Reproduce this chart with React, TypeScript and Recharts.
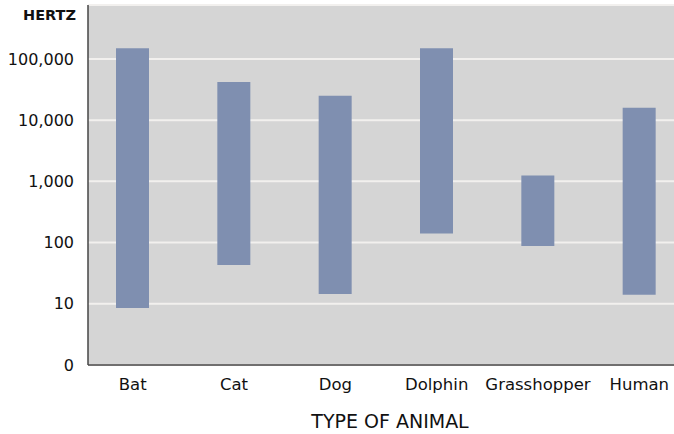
import { BarChart, Bar, XAxis, YAxis, CartesianGrid } from 'recharts';

const animals = ['Bat', 'Cat', 'Dog', 'Dolphin', 'Grasshopper', 'Human'];
const lowHz = [8.5, 43, 14.5, 140, 88, 14];
const highHz = [150000, 42000, 25000, 150000, 1250, 16000];
const yTicks = [1, 10, 100, 1000, 10000, 100000];

const data = animals.map((name, i) => ({ name, range: [lowHz[i], highHz[i]] }));

const font = '"DejaVu Sans", sans-serif';

export default function App() {
  return (
    <div style={{ position: 'fixed', left: 0, top: 0, width: 674, height: 434, overflow: 'hidden', background: '#fff' }}>
      <BarChart width={700} height={434} data={data} margin={{ top: 5, right: 10, left: 8, bottom: 9 }}>
        <CartesianGrid vertical={false} fill="#d5d5d5" stroke="#f2f0ee" strokeWidth={2} />
        <XAxis
          dataKey="name"
          height={60}
          padding={{ left: -6, right: 0 }}
          tickLine={false}
          tickSize={0}
          tickMargin={13}
          axisLine={{ stroke: '#444', strokeWidth: 1.5 }}
          tick={{ fill: '#111', fontSize: 16.5, fontFamily: font }}
          label={{
            content: () => (
              <text x={390} y={428} textAnchor="middle" fill="#111" fontSize={19} fontFamily={font}>
                TYPE OF ANIMAL
              </text>
            ),
          }}
        />
        <YAxis
          scale="log"
          domain={[1, 760000]}
          allowDataOverflow
          ticks={yTicks}
          width={80}
          tickLine={false}
          tickSize={0}
          tickMargin={14}
          axisLine={{ stroke: '#444', strokeWidth: 1.5 }}
          tick={{ fill: '#111', fontSize: 16, fontFamily: font }}
          tickFormatter={(v: number) => (v === 1 ? '0' : v.toLocaleString('en-US'))}
          label={{
            content: () => (
              <text x={76} y={20} textAnchor="end" fill="#111" fontSize={14.5} fontWeight="bold" fontFamily={font}>
                HERTZ
              </text>
            ),
          }}
        />
        <Bar dataKey="range" fill="#7f8fb0" barSize={33} isAnimationActive={false} />
      </BarChart>
    </div>
  );
}
